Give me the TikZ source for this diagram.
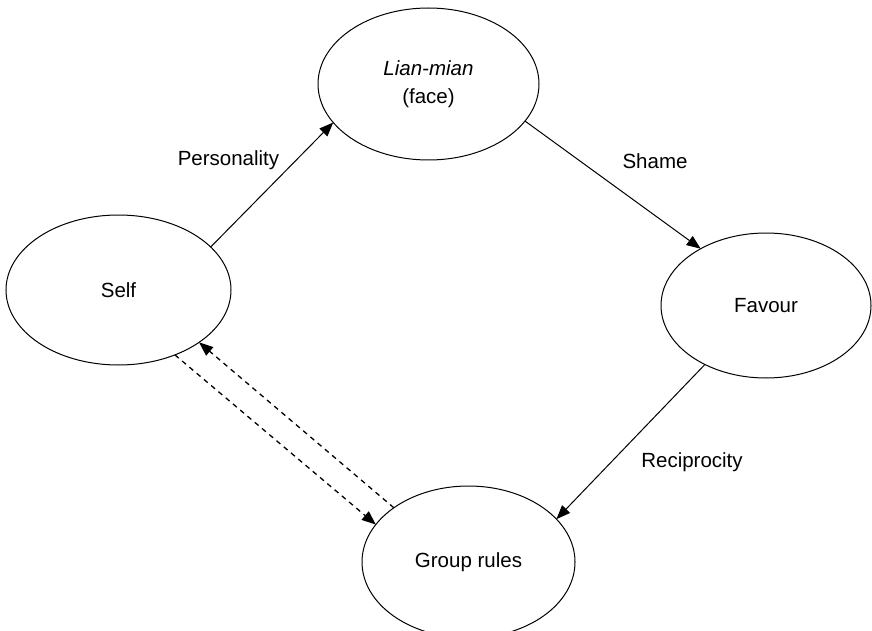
\documentclass[tikz,border=0pt]{standalone}
\usepackage{fontspec}
\setmainfont{Liberation Sans}
\usetikzlibrary{shapes.geometric,arrows.meta}
\begin{document}
\begin{tikzpicture}[x=1pt,y=-1pt,
  every node/.style={font=\fontsize{20.5}{28}\selectfont},
  ell/.style={draw, ellipse, line width=1pt, inner sep=0pt, outer sep=0pt, align=center},
  lbl/.style={anchor=base, inner sep=0pt},
  conn/.style={line width=1pt, -{Triangle[length=14pt,width=11pt]}},
  dconn/.style={conn, line width=1.3pt, dash pattern=on 5pt off 4.5pt}]
\useasboundingbox (0,0) rectangle (872,631);
\node[ell, minimum width=221pt, minimum height=152pt] (lian) at (428.5,84) {{\itshape Lian-mian}\\(face)};
\node[ell, minimum width=225pt, minimum height=150pt] (self) at (118.5,290) {Self};
\node[ell, minimum width=210pt, minimum height=145pt] (favour) at (766,305.5) {Favour};
\node[ell, minimum width=213pt, minimum height=152pt] (group) at (468.5,562) {Group rules};
\draw[conn] (self.25.7) -- (lian.202);
\draw[conn] (lian.-21) -- (favour.139.4);
\draw[conn] (favour.224.8) -- (group.26.2);
\draw[dconn] (self.-49.3) -- (group.158.8);
\draw[dconn] (group.144) -- (self.-33);
\node[lbl] (lpers) at (228.5,166) {Personality};
\node[lbl] (lshame) at (655,168) {Shame};
\node[lbl] (lrecip) at (692,467) {Reciprocity};
\end{tikzpicture}
\end{document}
